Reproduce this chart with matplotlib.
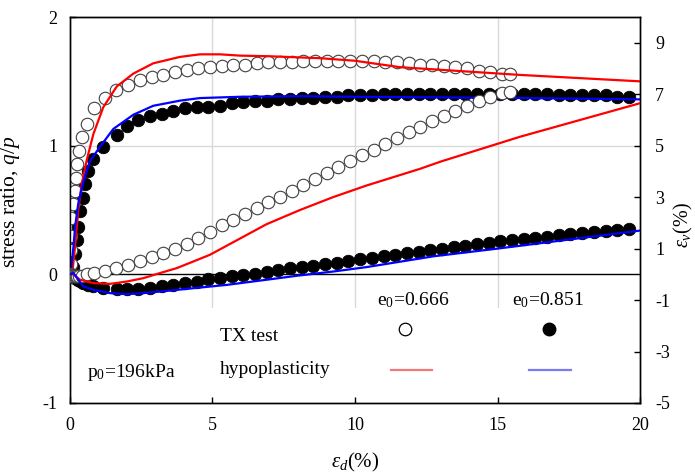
import numpy as np
import matplotlib
matplotlib.use("Agg")
import matplotlib.pyplot as plt
from matplotlib.patches import Rectangle

plt.rcParams['font.family'] = ['Liberation Serif', 'DejaVu Serif']
plt.rcParams['mathtext.fontset'] = 'custom'
plt.rcParams['mathtext.rm'] = 'Liberation Serif'
plt.rcParams['mathtext.it'] = 'Liberation Serif:italic'
plt.rcParams['axes.unicode_minus'] = False

# TX test, e0 = 0.666 (open circles)
x_open = [0.05, 0.02, 0.05, 0.05, 0.05, 0.10, 0.18, 0.22, 0.25, 0.30, 0.41, 0.58,
          0.84, 1.23, 1.60, 2.04, 2.46, 2.87, 3.26, 3.68, 4.09, 4.50, 4.91, 5.32,
          5.73, 6.14, 6.55, 6.96, 7.37, 7.78, 8.19, 8.60, 9.01, 9.42, 9.83, 10.24,
          10.65, 11.06, 11.47, 11.88, 12.29, 12.70, 13.11, 13.52, 13.93, 14.34,
          14.75, 15.16, 15.44]
q_open = [0.00, 0.08, 0.19, 0.30, 0.44, 0.55, 0.65, 0.75, 0.86, 0.96, 1.07, 1.17,
          1.29, 1.37, 1.43, 1.47, 1.51, 1.53, 1.55, 1.57, 1.59, 1.60, 1.61, 1.62,
          1.63, 1.63, 1.64, 1.65, 1.65, 1.65, 1.66, 1.66, 1.66, 1.66, 1.66, 1.66,
          1.66, 1.65, 1.65, 1.64, 1.63, 1.63, 1.62, 1.61, 1.60, 1.58, 1.57, 1.56, 1.56]
ev_open = [0.00, -0.02, -0.05, -0.06, -0.07, -0.08, -0.08, -0.08, -0.08, -0.07, -0.05, 0.00,
           0.06, 0.14, 0.25, 0.38, 0.52, 0.67, 0.83, 1.00, 1.18, 1.40, 1.65, 1.92,
           2.10, 2.36, 2.57, 2.80, 3.02, 3.22, 3.48, 3.72, 3.94, 4.18, 4.40, 4.64,
           4.85, 5.05, 5.30, 5.55, 5.72, 5.95, 6.15, 6.35, 6.55, 6.72, 6.88, 7.04, 7.10]

# TX test, e0 = 0.851 (filled circles)
x_fill = [0.00, 0.08, 0.12, 0.18, 0.24, 0.29, 0.35, 0.47, 0.53, 0.64, 0.82, 1.17,
          1.64, 1.99, 2.40, 2.81, 3.22, 3.62, 4.04, 4.45, 4.85, 5.26, 5.67, 6.08,
          6.49, 6.90, 7.31, 7.72, 8.13, 8.54, 8.95, 9.36, 9.77, 10.18, 10.59, 11.00,
          11.41, 11.82, 12.23, 12.64, 13.05, 13.46, 13.87, 14.28, 14.69, 15.10, 15.51,
          15.92, 16.33, 16.74, 17.15, 17.56, 17.97, 18.38, 18.79, 19.20, 19.61]
q_fill = [0.00, 0.03, 0.06, 0.16, 0.27, 0.37, 0.49, 0.59, 0.70, 0.80, 0.90, 0.99,
          1.08, 1.15, 1.20, 1.23, 1.25, 1.27, 1.29, 1.30, 1.30, 1.31, 1.33, 1.34,
          1.35, 1.35, 1.36, 1.36, 1.37, 1.37, 1.38, 1.38, 1.39, 1.39, 1.39, 1.40,
          1.40, 1.40, 1.40, 1.40, 1.40, 1.40, 1.40, 1.40, 1.40, 1.40, 1.40,
          1.40, 1.40, 1.40, 1.39, 1.39, 1.39, 1.39, 1.39, 1.38, 1.38]
ev_fill = [0.00, -0.05, -0.10, -0.15, -0.19, -0.22, -0.25, -0.32, -0.35, -0.40, -0.47, -0.53,
           -0.58, -0.58, -0.56, -0.53, -0.47, -0.41, -0.34, -0.28, -0.20, -0.14, -0.08, -0.03,
           0.03, 0.10, 0.16, 0.23, 0.28, 0.34, 0.40, 0.45, 0.52, 0.58, 0.64, 0.70,
           0.75, 0.82, 0.88, 0.94, 1.00, 1.06, 1.12, 1.17, 1.22, 1.28, 1.33,
           1.38, 1.42, 1.47, 1.51, 1.55, 1.60, 1.64, 1.68, 1.72, 1.77]

# hypoplasticity, e0 = 0.666 (red)
x_red_q = [0, 0.10, 0.175, 0.29, 0.41, 0.59, 0.82, 1.17, 1.64, 2.22, 2.92, 3.86,
           4.56, 5.26, 5.96, 7.0, 8.77, 10.0, 11.58, 12.98, 15.79, 20.0]
q_red = [0, 0.05, 0.21, 0.50, 0.70, 0.89, 1.09, 1.30, 1.46, 1.56, 1.64, 1.69,
         1.71, 1.71, 1.70, 1.695, 1.68, 1.66, 1.61, 1.59, 1.55, 1.50]
x_red_ev = [0, 0.12, 0.35, 0.82, 1.40, 1.99, 2.57, 3.16, 3.74, 4.33, 4.91, 5.73,
            6.9, 8.07, 9.23, 10.4, 12.28, 13.0, 15.8, 20.0]
ev_red = [0, 0.0, -0.21, -0.34, -0.37, -0.28, -0.15, 0.05, 0.24, 0.50, 0.76, 1.25,
          1.95, 2.5, 3.0, 3.45, 4.1, 4.38, 5.35, 6.65]

# hypoplasticity, e0 = 0.851 (blue)
x_blue_q = [0, 0.06, 0.12, 0.18, 0.29, 0.47, 0.70, 1.05, 1.52, 2.22, 2.92, 3.86,
            4.56, 5.96, 8.0, 10.0, 13.0, 16.0, 20.0]
q_blue = [0, 0.08, 0.21, 0.37, 0.55, 0.72, 0.88, 0.99, 1.13, 1.24, 1.31, 1.35,
          1.37, 1.38, 1.385, 1.38, 1.375, 1.37, 1.36]
x_blue_ev = [0, 0.12, 0.47, 0.82, 1.40, 1.99, 2.57, 3.16, 4.33, 5.5, 6.9, 8.0,
             9.24, 10.4, 12.75, 15.0, 17.5, 20.0]
ev_blue = [0, 0.05, -0.47, -0.60, -0.73, -0.77, -0.73, -0.67, -0.54, -0.41, -0.21, -0.05,
           0.11, 0.28, 0.70, 1.00, 1.35, 1.70]

fig = plt.figure(figsize=(6.95, 4.74), dpi=100)
ax = fig.add_axes([0.1007, 0.1498, 0.8202, 0.8143])
ax2 = ax.twinx()

ax.set_xlim(0, 20)
ax.set_ylim(-1, 2)
ax2.set_ylim(-5, 10)
ax.set_xticks([0, 5, 10, 15, 20])
ax.set_yticks([-1, 0, 1, 2])
ax2.set_yticks([-5, -3, -1, 1, 3, 5, 7, 9])

# grid and zero line
for gx in [5, 10, 15]:
    ax.axvline(gx, color='#d9d9d9', lw=1, zorder=0)
ax.axhline(1, color='#d9d9d9', lw=1, zorder=0)
ax.axhline(0, color='black', lw=1, zorder=0.5)
ax.add_patch(Rectangle((0.004, 0.004), 0.99, 0.243, transform=ax.transAxes,
                       facecolor='white', edgecolor='none', zorder=0.8))

ms = 9
ax.plot(x_fill, q_fill, 'o', ms=ms, mfc='black', mec='black', mew=0.6, zorder=2)
ax.plot(x_open, q_open, 'o', ms=ms, mfc='white', mec='#404040', mew=0.8, zorder=3)
ax.plot(x_red_q, q_red, color='red', lw=1.6, zorder=4)
ax.plot(x_blue_q, q_blue, color='blue', lw=1.6, zorder=4)

ax2.plot(x_fill, ev_fill, 'o', ms=ms, mfc='black', mec='black', mew=0.6, zorder=2)
ax2.plot(x_open, ev_open, 'o', ms=ms, mfc='white', mec='#404040', mew=0.8, zorder=3)
ax2.plot(x_red_ev, ev_red, color='red', lw=1.6, zorder=4)
ax2.plot(x_blue_ev, ev_blue, color='blue', lw=1.6, zorder=4)

for a in (ax, ax2):
    for s in a.spines.values():
        s.set_linewidth(1.0)
    a.tick_params(direction='in', length=4, width=1, labelsize=13)
ax.tick_params(axis='y', pad=9)
ax.tick_params(axis='x', pad=10)
ax2.tick_params(axis='y', pad=11)

ax.set_ylabel(r'stress ratio, $\mathit{q/p}$', fontsize=15.5, labelpad=3)
ax.yaxis.set_label_coords(-0.085, 0.52)
ax2.set_ylabel(r'$\mathit{\varepsilon_v}$(%)', fontsize=14.5, labelpad=2)
ax2.yaxis.set_label_coords(1.056, 0.46)
ax.set_xlabel(r'$\mathit{\varepsilon_d}$(%)', fontsize=15, labelpad=12)

# legend table
ax2.text(0.602, 0.267, r'e$_0$=0.666', transform=ax.transAxes, fontsize=14,
         ha='center', va='center', zorder=6)
ax2.text(0.839, 0.267, r'e$_0$=0.851', transform=ax.transAxes, fontsize=14,
         ha='center', va='center', zorder=6)
ax2.text(0.263, 0.171, 'TX test', transform=ax.transAxes, fontsize=14,
         ha='left', va='center', zorder=6)
ax2.text(0.263, 0.0855, 'hypoplasticity', transform=ax.transAxes, fontsize=14,
         ha='left', va='center', zorder=6)
ax2.text(0.030, 0.080, r'p$_0$=196kPa', transform=ax.transAxes, fontsize=14,
         ha='left', va='center', zorder=6)
ax2.plot([0.588], [0.192], 'o', ms=ms, mfc='white', mec='black', mew=0.9,
         transform=ax.transAxes, zorder=6)
ax2.plot([0.840], [0.192], 'o', ms=ms, mfc='black', mec='black',
         transform=ax.transAxes, zorder=6)
ax2.plot([0.563, 0.635], [0.0855, 0.0855], color='#f27a7a', lw=1.6,
         transform=ax.transAxes, zorder=6)
ax2.plot([0.805, 0.879], [0.0855, 0.0855], color='#7a7af2', lw=1.6,
         transform=ax.transAxes, zorder=6)

fig.savefig('out.png', dpi=100)
